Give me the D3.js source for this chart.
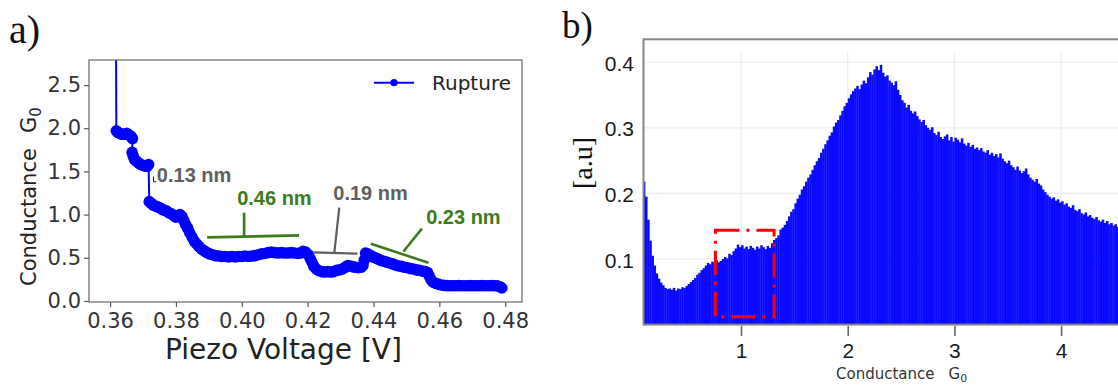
<!DOCTYPE html>
<html>
<head>
<meta charset="utf-8">
<script src="https://cdn.jsdelivr.net/npm/d3@7"></script>
<style>
  html, body { margin: 0; padding: 0; background: #fff; }
  svg { display: block; }
</style>
</head>
<body>
<svg id="fig" width="1118" height="385"></svg>
<script>
// ---------- panel a: conductance trace during rupture ----------
const voltage = [
  0.3618, 0.3619, 0.3624, 0.3630, 0.3636, 0.3643, 0.3651, 0.3657, 0.3663, 0.3668,
  0.3667, 0.3670, 0.3674, 0.3680, 0.3686, 0.3693, 0.3700, 0.3707, 0.3713, 0.3717,
  0.3719, 0.3725, 0.3731, 0.3737, 0.3744, 0.3751, 0.3758, 0.3765, 0.3772, 0.3779,
  0.3786, 0.3793, 0.3800, 0.3806, 0.3812, 0.3818, 0.3824, 0.3830, 0.3836, 0.3842,
  0.3849, 0.3856, 0.3863, 0.3870, 0.3878, 0.3886, 0.3894, 0.3902, 0.3911, 0.3920,
  0.3930, 0.3940, 0.3950, 0.3960, 0.3970, 0.3980, 0.3990, 0.4000, 0.4010, 0.4020,
  0.4030, 0.4040, 0.4050, 0.4060, 0.4070, 0.4080, 0.4090, 0.4100, 0.4110, 0.4120,
  0.4130, 0.4140, 0.4150, 0.4160, 0.4170, 0.4178, 0.4186, 0.4194, 0.4202, 0.4208,
  0.4213, 0.4219, 0.4226, 0.4234, 0.4243, 0.4252, 0.4261, 0.4270, 0.4279, 0.4288,
  0.4297, 0.4306, 0.4314, 0.4322, 0.4330, 0.4338, 0.4346, 0.4354, 0.4362, 0.4368,
  0.4372, 0.4376, 0.4382, 0.4390, 0.4398, 0.4406, 0.4414, 0.4422, 0.4431, 0.4440,
  0.4449, 0.4458, 0.4467, 0.4476, 0.4485, 0.4494, 0.4503, 0.4512, 0.4521, 0.4530,
  0.4539, 0.4548, 0.4557, 0.4564, 0.4569, 0.4574, 0.4580, 0.4588, 0.4596, 0.4605,
  0.4614, 0.4623, 0.4632, 0.4641, 0.4650, 0.4659, 0.4668, 0.4677, 0.4686, 0.4695,
  0.4704, 0.4713, 0.4722, 0.4731, 0.4740, 0.4749, 0.4758, 0.4767, 0.4776, 0.4784,
  0.4790
];
const conductance = [
  3.20, 1.97, 1.95, 1.94, 1.93, 1.93, 1.94, 1.92, 1.91, 1.88,
  1.72, 1.68, 1.64, 1.62, 1.60, 1.58, 1.57, 1.56, 1.56, 1.58,
  1.15, 1.13, 1.11, 1.10, 1.09, 1.08, 1.06, 1.05, 1.04, 1.02,
  1.01, 0.99, 0.97, 0.98, 1.00, 0.98, 0.93, 0.88, 0.84, 0.79,
  0.74, 0.69, 0.66, 0.63, 0.60, 0.58, 0.56, 0.545, 0.535, 0.525,
  0.52, 0.515, 0.515, 0.51, 0.515, 0.51, 0.515, 0.515, 0.52, 0.515,
  0.52, 0.525, 0.535, 0.545, 0.55, 0.56, 0.565, 0.56, 0.555, 0.56,
  0.555, 0.555, 0.56, 0.555, 0.55, 0.555, 0.575, 0.565, 0.535, 0.49,
  0.45, 0.40, 0.37, 0.35, 0.34, 0.335, 0.34, 0.335, 0.34, 0.355,
  0.36, 0.37, 0.39, 0.41, 0.405, 0.395, 0.39, 0.385, 0.39, 0.41,
  0.47, 0.555, 0.545, 0.53, 0.51, 0.50, 0.485, 0.47, 0.46, 0.45,
  0.44, 0.43, 0.415, 0.405, 0.40, 0.39, 0.385, 0.375, 0.37, 0.36,
  0.355, 0.345, 0.34, 0.33, 0.29, 0.25, 0.22, 0.205, 0.195, 0.185,
  0.18, 0.178, 0.176, 0.177, 0.176, 0.178, 0.177, 0.176, 0.177, 0.178,
  0.177, 0.176, 0.177, 0.178, 0.177, 0.176, 0.178, 0.177, 0.175, 0.165,
  0.15
];
const voltTicks = [0.36, 0.38, 0.40, 0.42, 0.44, 0.46, 0.48];
const condTicks = [0.0, 0.5, 1.0, 1.5, 2.0, 2.5];
const traceName = "Rupture";

// gap annotations, anchored in data units (V, G0)
const gapNotes = [
  { text: "0.13 nm", tone: "gray",  at: [0.3742, 1.372], marks: [] },
  { text: "0.46 nm", tone: "green", at: [0.3986, 1.116],
    marks: [[[0.3895, 0.736], [0.4174, 0.759]], [[0.4007, 1.023], [0.4007, 0.747]]] },
  { text: "0.19 nm", tone: "gray",  at: [0.4278, 1.174],
    marks: [[[0.4217, 0.562], [0.4351, 0.547]], [[0.4296, 1.081], [0.4281, 0.555]]] },
  { text: "0.23 nm", tone: "green", at: [0.4560, 0.895],
    marks: [[[0.4392, 0.663], [0.4567, 0.442]], [[0.4491, 0.573], [0.4547, 0.837]]] }
];

// ---------- panel b: conductance histogram ----------
const binStart = 0.08;
const binWidth = 0.02;
const histValues = [
  0.218, 0.195, 0.160, 0.128, 0.105, 0.090, 0.078, 0.070, 0.064, 0.060,
  0.056, 0.054, 0.055, 0.053, 0.056, 0.052, 0.055, 0.054, 0.057, 0.056,
  0.059, 0.062, 0.065, 0.068, 0.071, 0.076, 0.079, 0.083, 0.086, 0.090,
  0.094, 0.092, 0.096, 0.094, 0.098, 0.095, 0.097, 0.100, 0.103, 0.101,
  0.108, 0.106, 0.112, 0.116, 0.122, 0.118, 0.121, 0.116, 0.119, 0.115,
  0.120, 0.117, 0.114, 0.119, 0.116, 0.121, 0.118, 0.115, 0.120, 0.117,
  0.124, 0.129, 0.132, 0.136, 0.145, 0.148, 0.152, 0.158, 0.165, 0.172,
  0.176, 0.185, 0.192, 0.198, 0.206, 0.211, 0.218, 0.224, 0.229, 0.236,
  0.243, 0.249, 0.254, 0.262, 0.268, 0.275, 0.281, 0.288, 0.293, 0.302,
  0.308, 0.312, 0.319, 0.326, 0.333, 0.338, 0.345, 0.351, 0.356, 0.360,
  0.364, 0.359, 0.366, 0.372, 0.368, 0.377, 0.385, 0.381, 0.389, 0.394,
  0.388, 0.396, 0.384, 0.378, 0.380, 0.372, 0.369, 0.365, 0.371, 0.358,
  0.350, 0.342, 0.338, 0.331, 0.335, 0.326, 0.322, 0.325, 0.318, 0.313,
  0.309, 0.312, 0.304, 0.300, 0.297, 0.301, 0.292, 0.289, 0.294, 0.286,
  0.283, 0.287, 0.290, 0.281, 0.286, 0.279, 0.285, 0.282, 0.278, 0.284,
  0.276, 0.273, 0.277, 0.271, 0.274, 0.268, 0.270, 0.266, 0.269, 0.264,
  0.262, 0.266, 0.259, 0.262, 0.257, 0.260, 0.255, 0.261, 0.253, 0.249,
  0.246, 0.250, 0.243, 0.240, 0.236, 0.241, 0.235, 0.231, 0.234, 0.238,
  0.229, 0.224, 0.221, 0.218, 0.222, 0.215, 0.212, 0.206, 0.202, 0.198,
  0.195, 0.192, 0.194, 0.189, 0.191, 0.186, 0.188, 0.183, 0.185, 0.180,
  0.178, 0.182, 0.175, 0.173, 0.176, 0.170, 0.168, 0.171, 0.165, 0.167,
  0.163, 0.161, 0.164, 0.159, 0.157, 0.160, 0.155, 0.158, 0.153, 0.155,
  0.151, 0.153, 0.149, 0.150
];
const histXTicks = [1, 2, 3, 4];
const histYTicks = [0.1, 0.2, 0.3, 0.4];
const focusG = [0.76, 1.31];     // highlighted conductance window
const focusH = [0.012, 0.144];

// ---------- drawing ----------
const svg = d3.select("#fig");
const SANS = "'DejaVu Sans', sans-serif";
const ARIAL = "'Liberation Sans', Arial, sans-serif";
const SERIF = "'Liberation Serif', 'Times New Roman', serif";
const BLUE = "#0000ff";
const GREEN = "#3c7a1e";
const GRAY = "#5f5f5f";

svg.append("rect").attr("width", 1118).attr("height", 385).attr("fill", "#fff");

// ===== panel a =====
const A = { left: 89, right: 522, top: 60, bottom: 302 };
const xA = d3.scaleLinear().domain([0.3536, 0.4851]).range([A.left, A.right]);
const yA = d3.scaleLinear().domain([-0.012, 2.79]).range([A.bottom, A.top]);

svg.append("text").attr("x", 9).attr("y", 43)
  .attr("font-family", SERIF).attr("font-size", 40).attr("fill", "#111")
  .text("a)");

svg.append("clipPath").attr("id", "clipA")
  .append("rect").attr("x", A.left).attr("y", A.top)
  .attr("width", A.right - A.left).attr("height", A.bottom - A.top);

const gA = svg.append("g");
const trace = voltage.map((v, i) => [v, conductance[i]]);

const plotA = gA.append("g").attr("clip-path", "url(#clipA)");
plotA.append("path")
  .datum(trace)
  .attr("fill", "none").attr("stroke", BLUE).attr("stroke-width", 2)
  .attr("d", d3.line().x(d => xA(d[0])).y(d => yA(d[1])));
plotA.selectAll("circle.pt")
  .data(trace.slice(1))
  .join("circle").attr("class", "pt")
  .attr("cx", d => xA(d[0])).attr("cy", d => yA(d[1]))
  .attr("r", 5.8).attr("fill", BLUE);

// small blue marker next to the first gap label
plotA.append("path")
  .attr("d", d3.line().x(d => xA(d[0])).y(d => yA(d[1]))([[0.3732, 1.44], [0.3732, 1.38], [0.3740, 1.38]]))
  .attr("fill", "none").attr("stroke", BLUE).attr("stroke-width", 1);

// axes
const axAx = gA.append("g").attr("transform", `translate(0,${A.bottom})`)
  .call(d3.axisBottom(xA).tickValues(voltTicks).tickFormat(d3.format(".2f")).tickSize(5).tickPadding(6));
const axAy = gA.append("g").attr("transform", `translate(${A.left},0)`)
  .call(d3.axisLeft(yA).tickValues(condTicks).tickFormat(d3.format(".1f")).tickSize(5).tickPadding(3));
[axAx, axAy].forEach(ax => {
  ax.select(".domain").remove();
  ax.selectAll(".tick line").attr("stroke", "#555").attr("stroke-width", 1.2);
  ax.selectAll(".tick text").attr("font-family", SANS).attr("font-size", 21).attr("fill", "#333");
});

// spines
gA.append("rect").attr("x", A.left).attr("y", A.top)
  .attr("width", A.right - A.left).attr("height", A.bottom - A.top)
  .attr("fill", "none").attr("stroke", "#666").attr("stroke-width", 1.2);

// axis titles
gA.append("text").attr("x", 165).attr("y", 359)
  .attr("font-family", SANS).attr("font-size", 28).attr("fill", "#222")
  .text("Piezo Voltage [V]");
const yTitleA = gA.append("text")
  .attr("transform", "translate(36,286) rotate(-90)")
  .attr("font-family", SANS).attr("font-size", 21).attr("fill", "#222");
yTitleA.append("tspan").text("Conductance");
yTitleA.append("tspan").attr("dx", 15).text("G");
yTitleA.append("tspan").attr("dy", 5).attr("font-size", 15).text("0");

// legend
const leg = gA.append("g");
leg.append("line").attr("x1", 374).attr("x2", 414).attr("y1", 82.7).attr("y2", 82.7)
  .attr("stroke", BLUE).attr("stroke-width", 2);
leg.append("circle").attr("cx", 394).attr("cy", 82.7).attr("r", 3.6).attr("fill", BLUE);
leg.append("text").attr("x", 432).attr("y", 90)
  .attr("font-family", SANS).attr("font-size", 20).attr("fill", "#222")
  .text(traceName);

// gap annotations
gapNotes.forEach(n => {
  const col = n.tone === "green" ? GREEN : GRAY;
  n.marks.forEach(seg => {
    gA.append("line")
      .attr("x1", xA(seg[0][0])).attr("y1", yA(seg[0][1]))
      .attr("x2", xA(seg[1][0])).attr("y2", yA(seg[1][1]))
      .attr("stroke", col).attr("stroke-width", n.tone === "green" ? 2.6 : 2.2);
  });
  gA.append("text").attr("x", xA(n.at[0])).attr("y", yA(n.at[1]))
    .attr("font-family", ARIAL).attr("font-weight", "bold").attr("font-size", 20)
    .attr("fill", col).text(n.text);
});

// ===== panel b =====
const B = { left: 643.5, top: 39.3, bottom: 324.6 };
const xB = d3.scaleLinear().domain([0.086, 5]).range([B.left, B.left + 4.914 * 106.7]);
const yB = d3.scaleLinear().domain([0, 0.435]).range([B.bottom, B.top]);

svg.append("text").attr("x", 562).attr("y", 38)
  .attr("font-family", SERIF).attr("font-size", 37).attr("fill", "#111")
  .text("b)");

svg.append("clipPath").attr("id", "clipB")
  .append("rect").attr("x", B.left).attr("y", B.top)
  .attr("width", 1118 - B.left).attr("height", B.bottom - B.top);

const gB = svg.append("g");
const plotB = gB.append("g").attr("clip-path", "url(#clipB)");

// grid
plotB.selectAll("line.hg").data(histYTicks).join("line").attr("class", "hg")
  .attr("x1", B.left).attr("x2", 1118).attr("y1", d => yB(d)).attr("y2", d => yB(d))
  .attr("stroke", "#ebebeb").attr("stroke-width", 1.2);
plotB.selectAll("line.vg").data(histXTicks).join("line").attr("class", "vg")
  .attr("x1", d => xB(d)).attr("x2", d => xB(d)).attr("y1", 52).attr("y2", B.bottom)
  .attr("stroke", "#ebebeb").attr("stroke-width", 1.2);

// bars
const bins = histValues.map((v, i) => ({ g0: binStart + i * binWidth, v }));
plotB.selectAll("rect.bar").data(bins).join("rect").attr("class", "bar")
  .attr("x", d => xB(d.g0))
  .attr("width", d => xB(d.g0 + binWidth) - xB(d.g0) + 0.4)
  .attr("y", d => yB(d.v))
  .attr("height", d => yB(0) - yB(d.v))
  .attr("fill", "#0a0aff");

// highlighted window
plotB.append("rect")
  .attr("x", xB(focusG[0])).attr("y", yB(focusH[1]))
  .attr("width", xB(focusG[1]) - xB(focusG[0]))
  .attr("height", yB(focusH[0]) - yB(focusH[1]))
  .attr("fill", "none").attr("stroke", "#ff0000").attr("stroke-width", 3)
  .attr("stroke-dasharray", "24,7,3,7");

// frame
gB.append("rect").attr("x", B.left).attr("y", B.top)
  .attr("width", 1140 - B.left).attr("height", B.bottom - B.top)
  .attr("fill", "none").attr("stroke", "#858585").attr("stroke-width", 2);

// x axis
const axBx = gB.append("g").attr("transform", `translate(0,${B.bottom + 1.5})`)
  .call(d3.axisBottom(xB).tickValues(histXTicks).tickFormat(d3.format("d")).tickSize(10).tickPadding(7));
axBx.select(".domain").remove();
axBx.selectAll(".tick line").attr("stroke", "#666").attr("stroke-width", 1.6);
axBx.selectAll(".tick text").attr("font-family", ARIAL).attr("font-size", 21).attr("fill", "#1a1a1a");

// y labels (no tick marks)
gB.selectAll("text.yl").data(histYTicks).join("text").attr("class", "yl")
  .attr("x", 634).attr("y", d => yB(d) + 8.5)
  .attr("text-anchor", "end")
  .attr("font-family", ARIAL).attr("font-size", 21).attr("fill", "#1a1a1a")
  .text(d3.format(".1f"));

// axis titles
const xTitleB = gB.append("text").attr("x", 836).attr("y", 379)
  .attr("font-family", SANS).attr("font-size", 15).attr("fill", "#333");
xTitleB.append("tspan").text("Conductance");
xTitleB.append("tspan").attr("dx", 14).text("G");
xTitleB.append("tspan").attr("dy", 2.5).attr("font-size", 11).text("0");

gB.append("text").attr("transform", "translate(592,163) rotate(-90)")
  .attr("text-anchor", "middle")
  .attr("font-family", SERIF).attr("font-size", 28).attr("fill", "#111")
  .text("[a.u]");
</script>
</body>
</html>
